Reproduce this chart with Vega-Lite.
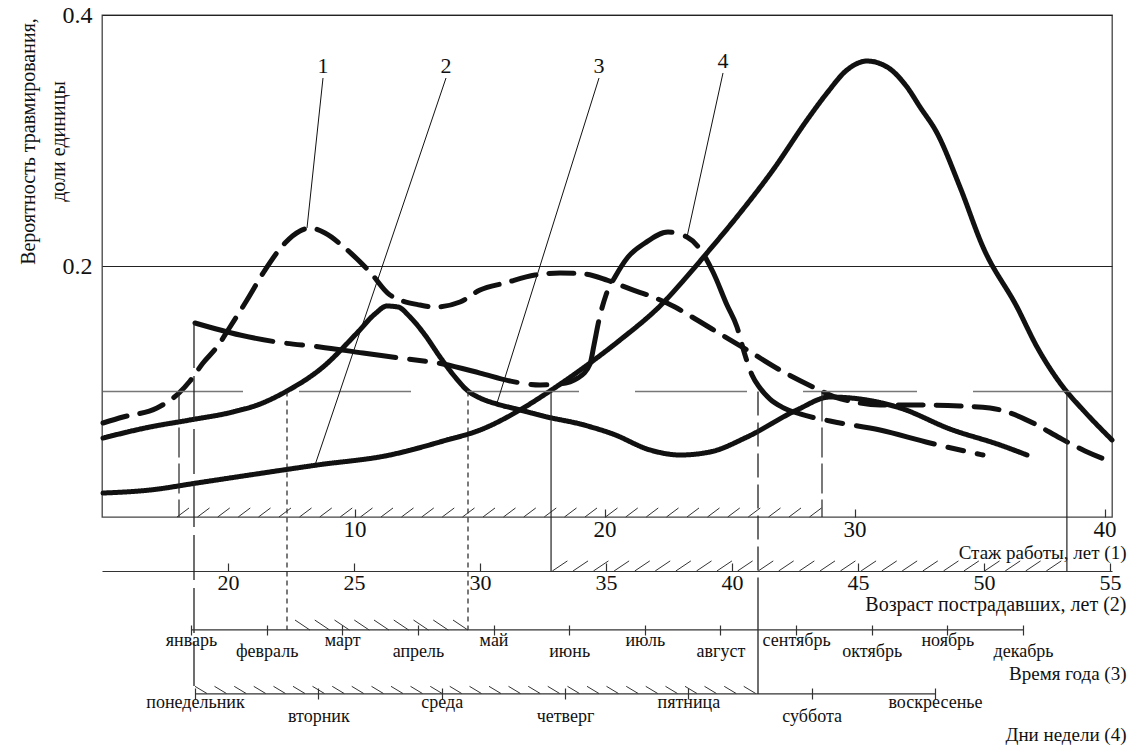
{
  "$schema": "https://vega.github.io/schema/vega-lite/v6.json",
  "width": 1010,
  "height": 502,
  "autosize": {"type": "none"},
  "padding": {"left": 102, "top": 15, "right": 20, "bottom": 229},
  "background": "white",
  "config": {
    "view": {"stroke": "#444", "strokeWidth": 1.3},
    "axis": {"labelFont": "Liberation Serif", "titleFont": "Liberation Serif", "labelColor": "#111", "titleColor": "#111", "titleFontWeight": "normal", "labelFlush": false, "labelOverlap": false, "grid": false, "tickColor": "#333", "tickWidth": 1.2, "domainColor": "#333", "labelBound": false},
    "text": {"font": "Liberation Serif", "color": "#111"}
  },
  "datasets": {
    "curves": [
      {"curve": "1", "s": -0.06, "p": 0.0749}, {"curve": "1", "s": 0.74, "p": 0.0797}, {"curve": "1", "s": 2.10, "p": 0.0869}, {"curve": "1", "s": 2.98, "p": 0.0988}, {"curve": "1", "s": 3.42, "p": 0.1084}, {"curve": "1", "s": 3.94, "p": 0.1227}, {"curve": "1", "s": 4.50, "p": 0.1355}, {"curve": "1", "s": 5.02, "p": 0.1514}, {"curve": "1", "s": 5.70, "p": 0.1729}, {"curve": "1", "s": 6.42, "p": 0.1968}, {"curve": "1", "s": 7.22, "p": 0.2183}, {"curve": "1", "s": 7.82, "p": 0.2279}, {"curve": "1", "s": 8.22, "p": 0.2303}, {"curve": "1", "s": 8.82, "p": 0.2263}, {"curve": "1", "s": 9.62, "p": 0.2143}, {"curve": "1", "s": 10.62, "p": 0.1952}, {"curve": "1", "s": 11.42, "p": 0.1769}, {"curve": "1", "s": 12.62, "p": 0.1689}, {"curve": "1", "s": 13.22, "p": 0.1673}, {"curve": "1", "s": 14.22, "p": 0.1713}, {"curve": "1", "s": 15.02, "p": 0.1809}, {"curve": "1", "s": 16.02, "p": 0.1865}, {"curve": "1", "s": 17.22, "p": 0.1928}, {"curve": "1", "s": 18.22, "p": 0.1944}, {"curve": "1", "s": 19.22, "p": 0.1936}, {"curve": "1", "s": 20.10, "p": 0.1888}, {"curve": "1", "s": 21.02, "p": 0.1817}, {"curve": "1", "s": 21.94, "p": 0.1753}, {"curve": "1", "s": 22.82, "p": 0.1673}, {"curve": "1", "s": 23.50, "p": 0.1594}, {"curve": "1", "s": 24.50, "p": 0.1474}, {"curve": "1", "s": 25.70, "p": 0.1331}, {"curve": "1", "s": 27.02, "p": 0.1171}, {"curve": "1", "s": 28.34, "p": 0.1036}, {"curve": "1", "s": 29.22, "p": 0.0956}, {"curve": "1", "s": 29.82, "p": 0.0924}, {"curve": "1", "s": 31.02, "p": 0.0892}, {"curve": "1", "s": 32.62, "p": 0.0892}, {"curve": "1", "s": 34.22, "p": 0.0884}, {"curve": "1", "s": 35.42, "p": 0.0869}, {"curve": "1", "s": 36.22, "p": 0.0829}, {"curve": "1", "s": 37.22, "p": 0.0741}, {"curve": "1", "s": 38.22, "p": 0.0629}, {"curve": "1", "s": 39.22, "p": 0.0526}, {"curve": "1", "s": 40.30, "p": 0.0438},
      {"curve": "2", "s": -0.06, "p": 0.0191}, {"curve": "2", "s": 1.82, "p": 0.0215}, {"curve": "2", "s": 3.70, "p": 0.0271}, {"curve": "2", "s": 5.82, "p": 0.0335}, {"curve": "2", "s": 8.50, "p": 0.0414}, {"curve": "2", "s": 11.42, "p": 0.0494}, {"curve": "2", "s": 13.42, "p": 0.0598}, {"curve": "2", "s": 15.22, "p": 0.0709}, {"curve": "2", "s": 16.62, "p": 0.0853}, {"curve": "2", "s": 17.82, "p": 0.1004}, {"curve": "2", "s": 19.42, "p": 0.1227}, {"curve": "2", "s": 20.62, "p": 0.1410}, {"curve": "2", "s": 22.34, "p": 0.1705}, {"curve": "2", "s": 23.14, "p": 0.1880}, {"curve": "2", "s": 24.10, "p": 0.2104}, {"curve": "2", "s": 25.42, "p": 0.2422}, {"curve": "2", "s": 26.74, "p": 0.2765}, {"curve": "2", "s": 28.10, "p": 0.3163}, {"curve": "2", "s": 28.90, "p": 0.3378}, {"curve": "2", "s": 29.70, "p": 0.3562}, {"curve": "2", "s": 30.50, "p": 0.3633}, {"curve": "2", "s": 31.30, "p": 0.3586}, {"curve": "2", "s": 32.10, "p": 0.3426}, {"curve": "2", "s": 32.62, "p": 0.3267}, {"curve": "2", "s": 33.30, "p": 0.3060}, {"curve": "2", "s": 34.22, "p": 0.2629}, {"curve": "2", "s": 35.14, "p": 0.2151}, {"curve": "2", "s": 36.50, "p": 0.1673}, {"curve": "2", "s": 37.30, "p": 0.1355}, {"curve": "2", "s": 38.34, "p": 0.1036}, {"curve": "2", "s": 39.14, "p": 0.0853}, {"curve": "2", "s": 40.30, "p": 0.0614},
      {"curve": "3", "s": -0.06, "p": 0.0629}, {"curve": "3", "s": 1.82, "p": 0.0717}, {"curve": "3", "s": 3.42, "p": 0.0773}, {"curve": "3", "s": 5.14, "p": 0.0837}, {"curve": "3", "s": 6.22, "p": 0.0900}, {"curve": "3", "s": 7.30, "p": 0.1004}, {"curve": "3", "s": 8.74, "p": 0.1195}, {"curve": "3", "s": 10.10, "p": 0.1466}, {"curve": "3", "s": 10.82, "p": 0.1618}, {"curve": "3", "s": 11.30, "p": 0.1681}, {"curve": "3", "s": 11.74, "p": 0.1673}, {"curve": "3", "s": 12.22, "p": 0.1594}, {"curve": "3", "s": 12.82, "p": 0.1450}, {"curve": "3", "s": 13.42, "p": 0.1275}, {"curve": "3", "s": 14.02, "p": 0.1116}, {"curve": "3", "s": 14.54, "p": 0.1004}, {"curve": "3", "s": 15.02, "p": 0.0948}, {"curve": "3", "s": 15.70, "p": 0.0900}, {"curve": "3", "s": 16.62, "p": 0.0853}, {"curve": "3", "s": 17.70, "p": 0.0797}, {"curve": "3", "s": 19.02, "p": 0.0741}, {"curve": "3", "s": 20.34, "p": 0.0661}, {"curve": "3", "s": 21.82, "p": 0.0534}, {"curve": "3", "s": 23.02, "p": 0.0494}, {"curve": "3", "s": 24.22, "p": 0.0518}, {"curve": "3", "s": 25.70, "p": 0.0637}, {"curve": "3", "s": 27.70, "p": 0.0853}, {"curve": "3", "s": 29.02, "p": 0.0956}, {"curve": "3", "s": 30.22, "p": 0.0940}, {"curve": "3", "s": 31.82, "p": 0.0869}, {"curve": "3", "s": 33.82, "p": 0.0701}, {"curve": "3", "s": 35.82, "p": 0.0574}, {"curve": "3", "s": 36.90, "p": 0.0494},
      {"curve": "4", "s": 3.62, "p": 0.1546}, {"curve": "4", "s": 5.42, "p": 0.1450}, {"curve": "4", "s": 6.90, "p": 0.1394}, {"curve": "4", "s": 8.62, "p": 0.1355}, {"curve": "4", "s": 10.34, "p": 0.1307}, {"curve": "4", "s": 11.82, "p": 0.1267}, {"curve": "4", "s": 13.54, "p": 0.1219}, {"curve": "4", "s": 15.02, "p": 0.1147}, {"curve": "4", "s": 16.22, "p": 0.1084}, {"curve": "4", "s": 17.42, "p": 0.1052}, {"curve": "4", "s": 18.22, "p": 0.1060}, {"curve": "4", "s": 18.94, "p": 0.1108}, {"curve": "4", "s": 19.42, "p": 0.1219}, {"curve": "4", "s": 19.58, "p": 0.1371}, {"curve": "4", "s": 19.78, "p": 0.1570}, {"curve": "4", "s": 20.06, "p": 0.1769}, {"curve": "4", "s": 20.42, "p": 0.1912}, {"curve": "4", "s": 20.94, "p": 0.2072}, {"curve": "4", "s": 21.62, "p": 0.2183}, {"curve": "4", "s": 22.54, "p": 0.2271}, {"curve": "4", "s": 23.30, "p": 0.2231}, {"curve": "4", "s": 23.82, "p": 0.2135}, {"curve": "4", "s": 24.34, "p": 0.1952}, {"curve": "4", "s": 24.90, "p": 0.1689}, {"curve": "4", "s": 25.30, "p": 0.1514}, {"curve": "4", "s": 25.62, "p": 0.1291}, {"curve": "4", "s": 25.90, "p": 0.1131}, {"curve": "4", "s": 26.22, "p": 0.1028}, {"curve": "4", "s": 26.62, "p": 0.0940}, {"curve": "4", "s": 27.10, "p": 0.0876}, {"curve": "4", "s": 27.82, "p": 0.0821}, {"curve": "4", "s": 29.02, "p": 0.0765}, {"curve": "4", "s": 31.02, "p": 0.0693}, {"curve": "4", "s": 33.02, "p": 0.0590}, {"curve": "4", "s": 35.14, "p": 0.0494}
    ],
    "leaders": [
      {"n": "1", "s": 8.74, "p": 0.3498, "s2": 8.10, "p2": 0.2303},
      {"n": "2", "s": 13.66, "p": 0.3498, "s2": 8.42, "p2": 0.0414},
      {"n": "3", "s": 19.78, "p": 0.3498, "s2": 15.70, "p2": 0.0908},
      {"n": "4", "s": 24.74, "p": 0.3538, "s2": 23.30, "p2": 0.2231}
    ],
    "hatchStaz": [{"s": 3.14}, {"s": 3.96}, {"s": 4.77}, {"s": 5.59}, {"s": 6.40}, {"s": 7.22}, {"s": 8.04}, {"s": 8.85}, {"s": 9.67}, {"s": 10.48}, {"s": 11.30}, {"s": 12.12}, {"s": 12.93}, {"s": 13.75}, {"s": 14.56}, {"s": 15.38}, {"s": 16.20}, {"s": 17.01}, {"s": 17.83}, {"s": 18.64}, {"s": 19.46}, {"s": 20.28}, {"s": 21.09}, {"s": 21.91}, {"s": 22.72}, {"s": 23.54}, {"s": 24.36}, {"s": 25.17}, {"s": 25.99}, {"s": 26.80}, {"s": 27.62}, {"s": 28.44}],
    "hatchMonths": [{"s": 7.92}, {"s": 8.71}, {"s": 9.50}, {"s": 10.29}, {"s": 11.08}, {"s": 11.87}, {"s": 12.66}, {"s": 13.45}, {"s": 14.24}],
    "hatchDays": [{"s": 3.86}, {"s": 4.64}, {"s": 5.43}, {"s": 6.21}, {"s": 7.00}, {"s": 7.78}, {"s": 8.56}, {"s": 9.35}, {"s": 10.13}, {"s": 10.92}, {"s": 11.70}, {"s": 12.48}, {"s": 13.27}, {"s": 14.05}, {"s": 14.84}, {"s": 15.62}, {"s": 16.40}, {"s": 17.19}, {"s": 17.97}, {"s": 18.76}, {"s": 19.54}, {"s": 20.32}, {"s": 21.11}, {"s": 21.89}, {"s": 22.68}, {"s": 23.46}, {"s": 24.24}, {"s": 25.03}, {"s": 25.81}],
    "hatchAge": [{"age": 33.17}, {"age": 33.99}, {"age": 34.80}, {"age": 35.62}, {"age": 36.44}, {"age": 37.25}, {"age": 38.07}, {"age": 38.89}, {"age": 39.70}, {"age": 40.52}, {"age": 41.34}, {"age": 42.15}, {"age": 42.97}, {"age": 43.79}, {"age": 44.60}, {"age": 45.42}, {"age": 46.24}, {"age": 47.05}, {"age": 47.87}, {"age": 48.69}, {"age": 49.50}, {"age": 50.32}, {"age": 51.14}, {"age": 51.95}, {"age": 52.77}],
    "months": [{"month": "январь"}, {"month": "февраль"}, {"month": "март"}, {"month": "апрель"}, {"month": "май"}, {"month": "июнь"}, {"month": "июль"}, {"month": "август"}, {"month": "сентябрь"}, {"month": "октябрь"}, {"month": "ноябрь"}, {"month": "декабрь"}],
    "days": [{"day": "понедельник"}, {"day": "вторник"}, {"day": "среда"}, {"day": "четверг"}, {"day": "пятница"}, {"day": "суббота"}, {"day": "воскресенье"}]
  },
  "resolve": {"scale": {"x": "independent"}, "axis": {"x": "independent"}},
  "layer": [
    {
      "layer": [
        {
          "data": {"name": "curves"},
          "mark": {"type": "line", "interpolate": "monotone", "stroke": "#111", "strokeWidth": 5, "strokeCap": "round"},
          "encoding": {
            "x": {"field": "s", "type": "quantitative", "scale": {"domain": [-0.1, 40.3], "nice": false, "zero": false},
              "axis": {"orient": "bottom", "values": [10, 20, 30, 40], "tickSize": -8, "domain": false, "labelFont": "Liberation Serif", "labelFontSize": 23, "labelBaseline": "alphabetic", "labelPadding": 27,
                "title": "Стаж работы, лет (1)", "titleFont": "Liberation Serif", "titleFontSize": 19, "titleX": 1024, "titleY": 41, "titleAlign": "right", "titleBaseline": "alphabetic", "titleAngle": 0}},
            "y": {"field": "p", "type": "quantitative", "scale": {"domain": [0, 0.4], "nice": false, "zero": false},
              "axis": {"values": [0.2, 0.4], "format": ".1f", "ticks": false, "domain": false, "grid": true, "gridColor": "#222", "gridWidth": 1, "labelFont": "Liberation Serif", "labelFontSize": 24, "labelPadding": 10, "labelBaseline": "middle",
                "title": ["Вероятность травмирования,", "доли единицы"], "titleFont": "Liberation Serif", "titleFontSize": 20, "titleAngle": -90, "titleX": -74, "titleY": 126, "titleAlign": "center", "titleBaseline": "middle", "titleLineHeight": 30}},
            "strokeDash": {"field": "curve", "type": "nominal", "scale": {"domain": ["1", "2", "3", "4"], "range": [[25, 13], [1, 0], [1, 0], [80, 14, 16, 14]]}, "legend": null}
          }
        },
        {
          "data": {"values": [{"p": 0.1}]},
          "mark": {"type": "rule", "stroke": "#777", "strokeWidth": 1.3, "strokeDash": [139, 56, 114, 56, 112, 56, 112, 56, 112, 56, 140]},
          "encoding": {"y": {"field": "p", "type": "quantitative"}}
        },
        {
          "data": {"name": "leaders"},
          "mark": {"type": "rule", "stroke": "#111", "strokeWidth": 1},
          "encoding": {
            "x": {"field": "s", "type": "quantitative"},
            "y": {"field": "p", "type": "quantitative"},
            "x2": {"field": "s2"},
            "y2": {"field": "p2"}
          }
        },
        {
          "data": {"name": "leaders"},
          "mark": {"type": "text", "font": "Liberation Serif", "fontSize": 22, "baseline": "alphabetic", "dy": -5},
          "encoding": {
            "x": {"field": "s", "type": "quantitative"},
            "y": {"field": "p", "type": "quantitative"},
            "text": {"field": "n"}
          }
        },
        {
          "data": {"values": [{"s": 2.98}, {"s": 28.70}]},
          "mark": {"type": "rule", "stroke": "#222", "strokeWidth": 1.2, "strokeDash": [30, 6]},
          "encoding": {"x": {"field": "s", "type": "quantitative"}, "y": {"datum": 0.1, "type": "quantitative"}, "y2": {"datum": 0}}
        },
        {
          "data": {"values": [{"s": 3.58}]},
          "mark": {"type": "rule", "stroke": "#222", "strokeWidth": 1.3, "strokeDash": [45, 8]},
          "encoding": {"x": {"field": "s", "type": "quantitative"}, "y": {"datum": 0.1546, "type": "quantitative"}, "y2": {"datum": -0.141}}
        },
        {
          "data": {"values": [{"s": 7.30}, {"s": 14.54}]},
          "mark": {"type": "rule", "stroke": "#222", "strokeWidth": 1.2, "strokeDash": [5, 4]},
          "encoding": {"x": {"field": "s", "type": "quantitative"}, "y": {"datum": 0.1, "type": "quantitative"}, "y2": {"datum": -0.09}}
        },
        {
          "data": {"values": [{"s": 26.14}]},
          "mark": {"type": "rule", "stroke": "#222", "strokeWidth": 1.3, "strokeDash": [24, 7]},
          "encoding": {"x": {"field": "s", "type": "quantitative"}, "y": {"datum": 0.1, "type": "quantitative"}, "y2": {"datum": -0.0661}}
        },
        {
          "data": {"values": [{"s": 26.14}]},
          "mark": {"type": "rule", "stroke": "#222", "strokeWidth": 1.3},
          "encoding": {"x": {"field": "s", "type": "quantitative"}, "y": {"datum": -0.0661, "type": "quantitative"}, "y2": {"datum": -0.141}}
        },
        {
          "data": {"name": "hatchStaz"},
          "mark": {"type": "point", "shape": "M-1,0.75L1,-0.75", "size": 144, "filled": false, "stroke": "#333", "strokeWidth": 1, "opacity": 1},
          "encoding": {"x": {"field": "s", "type": "quantitative"}, "y": {"datum": 0.0036, "type": "quantitative"}}
        },
        {
          "data": {"name": "hatchMonths"},
          "mark": {"type": "point", "shape": "M-1,-0.67L1,0.67", "size": 225, "filled": false, "stroke": "#333", "strokeWidth": 1, "opacity": 1},
          "encoding": {"x": {"field": "s", "type": "quantitative"}, "y": {"datum": -0.0861, "type": "quantitative"}}
        },
        {
          "data": {"name": "hatchDays"},
          "mark": {"type": "point", "shape": "M-1,-0.6L1,0.6", "size": 144, "filled": false, "stroke": "#333", "strokeWidth": 1, "opacity": 1},
          "encoding": {"x": {"field": "s", "type": "quantitative"}, "y": {"datum": -0.1378, "type": "quantitative"}}
        }
      ]
    },
    {
      "layer": [
        {
          "data": {"name": "hatchAge"},
          "mark": {"type": "point", "shape": "M-1,0.67L1,-0.67", "size": 225, "filled": false, "stroke": "#333", "strokeWidth": 1, "opacity": 1},
          "encoding": {
            "x": {"field": "age", "type": "quantitative", "scale": {"domain": [15.0, 55.08], "nice": false, "zero": false},
              "axis": {"orient": "bottom", "offset": 54, "values": [20, 25, 30, 35, 40, 45, 50, 55], "tickSize": -8, "domain": true, "domainWidth": 1.2, "labelFont": "Liberation Serif", "labelFontSize": 22, "labelBaseline": "alphabetic", "labelPadding": 26,
                "title": "Возраст пострадавших, лет (2)", "titleFont": "Liberation Serif", "titleFontSize": 20, "titleX": 1024, "titleY": 39, "titleAlign": "right", "titleBaseline": "alphabetic", "titleAngle": 0}},
            "y": {"datum": -0.039, "type": "quantitative"}
          }
        },
        {
          "data": {"values": [{"age": 32.82}, {"age": 53.29}]},
          "mark": {"type": "rule", "stroke": "#222", "strokeWidth": 1.2},
          "encoding": {"x": {"field": "age", "type": "quantitative"}, "y": {"datum": 0.1, "type": "quantitative"}, "y2": {"datum": -0.043}}
        }
      ]
    },
    {
      "layer": [
        {
          "data": {"name": "months"},
          "mark": {"type": "line", "stroke": "#333", "strokeWidth": 1.2},
          "encoding": {
            "x": {"field": "month", "type": "nominal", "sort": null, "scale": {"type": "point", "padding": 0, "range": [89, 921]},
              "axis": {"orient": "bottom", "offset": 108, "tickSize": 10, "domain": false, "labelAngle": 0, "labelAlign": "center", "labelFont": "Liberation Serif", "labelFontSize": 18, "labelBaseline": "alphabetic",
                "labelPadding": {"condition": {"test": "round(datum.index * 11) % 2 == 1", "value": 21}, "value": 10},
                "title": "Время года  (3)", "titleFont": "Liberation Serif", "titleFontSize": 19, "titleX": 1024, "titleY": 54, "titleAlign": "right", "titleBaseline": "alphabetic", "titleAngle": 0}},
            "y": {"datum": -0.09, "type": "quantitative"}
          }
        }
      ]
    },
    {
      "layer": [
        {
          "data": {"name": "days"},
          "mark": {"type": "line", "stroke": "#333", "strokeWidth": 1.2},
          "encoding": {
            "x": {"field": "day", "type": "nominal", "sort": null, "scale": {"type": "point", "padding": 0, "range": [93, 833]},
              "axis": {"orient": "bottom", "offset": 171, "tickSize": 11, "domain": false, "labelAngle": 0, "labelAlign": "center", "labelFont": "Liberation Serif", "labelFontSize": 18, "labelBaseline": "alphabetic",
                "labelPadding": {"condition": {"test": "round(datum.index * 6) % 2 == 1", "value": 22}, "value": 8},
                "title": "Дни недели  (4)", "titleFont": "Liberation Serif", "titleFontSize": 19, "titleX": 1024, "titleY": 52, "titleAlign": "right", "titleBaseline": "alphabetic", "titleAngle": 0}},
            "y": {"datum": -0.141, "type": "quantitative"}
          }
        }
      ]
    }
  ]
}
